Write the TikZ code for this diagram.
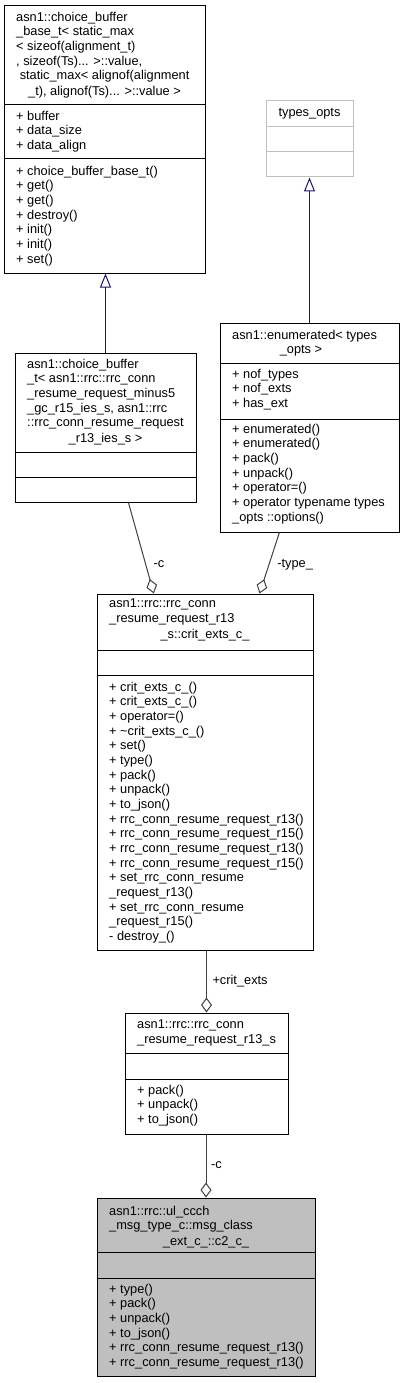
\documentclass[tikz,border=0pt]{standalone}
\usepackage{fontspec}
\setmainfont{Liberation Sans}
\usetikzlibrary{arrows.meta}
\definecolor{navy}{HTML}{191970}
\definecolor{edgegrey}{HTML}{404040}
\definecolor{boxgrey}{HTML}{BFBFBF}
\newcommand{\umlfont}{\fontsize{12.8}{14.65}\selectfont}

\begin{document}
\begin{tikzpicture}[
    x=1pt, y=-1pt,
    classbox/.style={rectangle,draw,line width=1pt,inner sep=0pt},
    faintbox/.style={classbox,draw=boxgrey},
    focusbox/.style={classbox,fill=boxgrey},
    members/.style={anchor=north west,inner sep=0pt,align=left,font=\umlfont,execute at begin node=\strut},
    lastline/.style={anchor=base,inner sep=0pt,font=\umlfont},
    sep/.style={line width=1pt},
    faintsep/.style={line width=1pt,draw=boxgrey},
    inherit/.style={draw=navy,line width=1pt,-{Triangle[open,length=14pt,width=11pt]}},
    assoc/.style={draw=edgegrey,line width=1pt,{Diamond[open,length=15pt,width=11pt]}-},
    role/.style={anchor=west,inner sep=0pt,font=\umlfont,text height=10pt,text depth=2pt}
  ]
    \path[use as bounding box,fill=white] (0,0) rectangle (404,1383);

    % choice_buffer_base_t
    \node[classbox,minimum width=201,minimum height=267] (cbBase) at (104.5,139.5) {};
    \draw[sep] (4,105) -- (205,105);
    \draw[sep] (4,159) -- (205,159);
    \node[members] (cbBase-title) at (16,11.8) {asn1::choice\_buffer\\\_base\_t< static\_max\\< sizeof(alignment\_t)\\, sizeof(Ts)... >::value,\\~static\_max< alignof(alignment};
    \node[lastline] (cbBase-title2) at (104.5,95.25) {\_t), alignof(Ts)... >::value >};
    \node[members] (cbBase-attr) at (16,110.8) {+ buffer\\+ data\_size\\+ data\_align};
    \node[members] (cbBase-ops) at (16,165.8) {+ choice\_buffer\_base\_t()\\+ get()\\+ get()\\+ destroy()\\+ init()\\+ init()\\+ set()};

    % types_opts
    \node[faintbox,minimum width=87,minimum height=76] (typesOpts) at (309.5,139) {};
    \draw[faintsep] (266,127) -- (353,127);
    \draw[faintsep] (266,152) -- (353,152);
    \node[lastline] (typesOpts-title) at (309.5,117) {types\_opts};

    % enumerated< types_opts >
    \node[classbox,minimum width=179,minimum height=209] (enumType) at (309.5,427.5) {};
    \draw[sep] (220,363) -- (399,363);
    \draw[sep] (220,419) -- (399,419);
    \node[members] (enumType-title) at (232,328.8) {asn1::enumerated< types};
    \node[lastline] (enumType-title2) at (301,353.65) {\_opts >};
    \node[members] (enumType-attr) at (232,368.8) {+ nof\_types\\+ nof\_exts\\+ has\_ext};
    \node[members] (enumType-ops) at (232,423.8) {+ enumerated()\\+ enumerated()\\+ pack()\\+ unpack()\\+ operator=()\\+ operator typename types\\\_opts ::options()};

    % choice_buffer_t
    \node[classbox,minimum width=181,minimum height=149] (cbReq) at (105.5,427.5) {};
    \draw[sep] (15,452) -- (196,452);
    \draw[sep] (15,477) -- (196,477);
    \node[members] (cbReq-title) at (27,358.8) {asn1::choice\_buffer\\\_t< asn1::rrc::rrc\_conn\\\_resume\_request\_minus5\\\_gc\_r15\_ies\_s, asn1::rrc\\::rrc\_conn\_resume\_request};
    \node[lastline] (cbReq-title2) at (105.5,442.25) {\_r13\_ies\_s >};

    % crit_exts_c_
    \node[classbox,minimum width=216,minimum height=356] (critExts) at (205,772) {};
    \draw[sep] (97,650) -- (313,650);
    \draw[sep] (97,675) -- (313,675);
    \node[members] (critExts-title) at (109,598.8) {asn1::rrc::rrc\_conn\\\_resume\_request\_r13};
    \node[lastline] (critExts-title2) at (205,638.3) {\_s::crit\_exts\_c\_};
    \node[members] (critExts-ops) at (109,681.8) {+ crit\_exts\_c\_()\\+ crit\_exts\_c\_()\\+ operator=()\\+ \textasciitilde crit\_exts\_c\_()\\+ set()\\+ type()\\+ pack()\\+ unpack()\\+ to\_json()\\+ rrc\_conn\_resume\_request\_r13()\\+ rrc\_conn\_resume\_request\_r15()\\+ rrc\_conn\_resume\_request\_r13()\\+ rrc\_conn\_resume\_request\_r15()\\+ set\_rrc\_conn\_resume\\\_request\_r13()\\+ set\_rrc\_conn\_resume\\\_request\_r15()\\- destroy\_()};

    % rrc_conn_resume_request_r13_s
    \node[classbox,minimum width=163,minimum height=121] (resumeReq) at (206.5,1073.5) {};
    \draw[sep] (125,1053) -- (288,1053);
    \draw[sep] (125,1079) -- (288,1079);
    \node[members] (resumeReq-title) at (137,1019.8) {asn1::rrc::rrc\_conn\\\_resume\_request\_r13\_s};
    \node[members] (resumeReq-ops) at (137,1084.8) {+ pack()\\+ unpack()\\+ to\_json()};

    % c2_c_ (focus)
    \node[focusbox,minimum width=218,minimum height=178] (c2) at (206,1287) {};
    \draw[sep] (97,1252) -- (315,1252);
    \draw[sep] (97,1278) -- (315,1278);
    \node[members] (c2-title) at (109,1205.8) {asn1::rrc::ul\_ccch\\\_msg\_type\_c::msg\_class};
    \node[lastline] (c2-title2) at (206,1245.3) {\_ext\_c\_::c2\_c\_};
    \node[members] (c2-ops) at (109,1283.8) {+ type()\\+ pack()\\+ unpack()\\+ to\_json()\\+ rrc\_conn\_resume\_request\_r13()\\+ rrc\_conn\_resume\_request\_r13()};

    % inheritance
    \draw[inherit] (cbReq.north) -- (cbReq.north |- cbBase.south);
    \draw[inherit] (enumType.north) -- (typesOpts.south);

    % members
    \draw[assoc] (critExts.106.3) -- node[role,pos=0.326,xshift=7.5] (lbl-c1) {-c} (cbReq.-73.9);
    \draw[assoc] (critExts.73.1) -- node[role,pos=0.49,xshift=7.6] (lbl-type) {-type\_} (enumType.-106.8);
    \draw[assoc] (resumeReq.north) -- node[role,pos=0.52,xshift=5.5] (lbl-crit) {+crit\_exts} (resumeReq.north |- critExts.south);
    \draw[assoc] (c2.north) -- node[role,pos=0.52,xshift=4.5] (lbl-c2) {-c} (c2.north |- resumeReq.south);
\end{tikzpicture}
\end{document}
